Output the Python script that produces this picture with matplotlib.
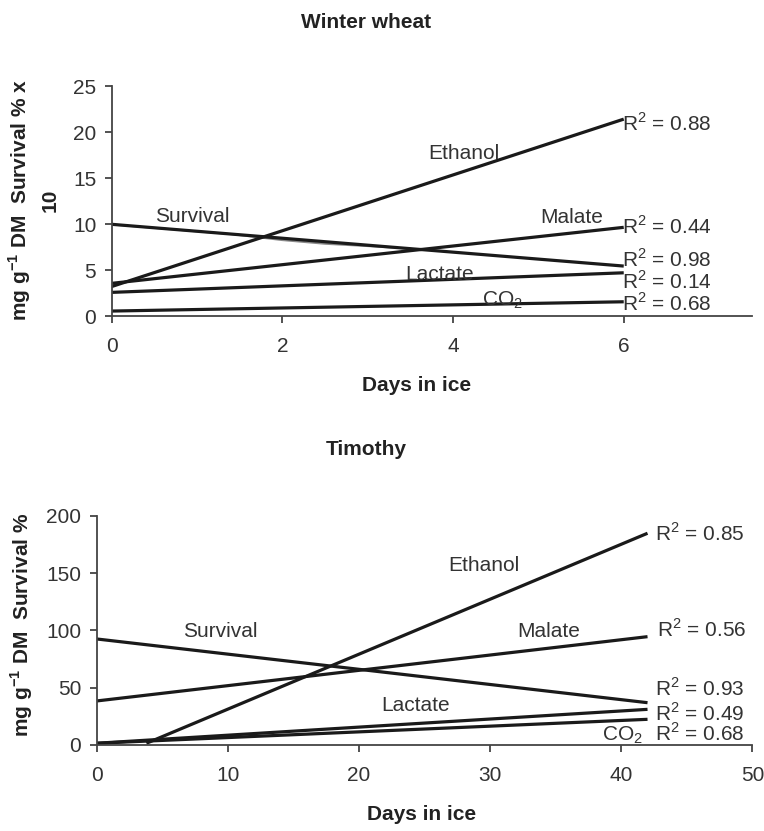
import matplotlib
matplotlib.use("Agg")
from matplotlib import pyplot as plt

plt.rcParams["font.family"] = ["Liberation Sans", "DejaVu Sans"]
plt.rcParams["mathtext.fontset"] = "custom"
plt.rcParams["mathtext.rm"] = "Liberation Sans"
plt.rcParams["mathtext.bf"] = "Liberation Sans:bold"

# winter wheat: fitted trend lines, value at day 0 and day 6
ww_x = [0, 6]
ww_ethanol = [3.2, 21.4]
ww_survival = [9.97, 5.43]
ww_malate = [3.55, 9.64]
ww_lactate = [2.57, 4.7]
ww_co2 = [0.54, 1.55]
# measured survival curve (grey, mostly hidden behind the fit)
ww_surv_raw_x = [0, 1.4, 2.0, 2.5, 3.0, 3.5]
ww_surv_raw_y = [9.95, 8.9, 8.25, 7.85, 7.6, 7.32]
ww_r2 = ["0.88", "0.44", "0.98", "0.14", "0.68"]
ww_r2_y = [20.15, 8.9, 5.4, 2.93, 0.59]

# timothy: value at day 0 and day 42
tim_x = [0, 42]
tim_ethanol_x = [3.8, 42]
tim_ethanol = [1.5, 184.7]
tim_survival = [92.5, 36.9]
tim_malate = [38.4, 94.5]
tim_lactate = [1.5, 31.1]
tim_co2 = [1.5, 22.4]
tim_r2 = ["0.85", "0.56", "0.93", "0.49", "0.68"]
tim_r2_x = [42.6, 42.75, 42.6, 42.6, 42.6]
tim_r2_y = [178.4, 94.0, 43.1, 21.3, 3.8]

fig = plt.figure(figsize=(7.64, 8.31), dpi=100)
ax1 = fig.add_axes([0.146, 0.6197, 0.838, 0.2768])
ax2 = fig.add_axes([0.1264, 0.1035, 0.8585, 0.2759])

lw = 2.3
fs = 15
ink = "#1a1a1a"
bold = dict(fontweight="bold", fontsize=15, color="#222222")

# top
ax1.plot(ww_surv_raw_x, ww_surv_raw_y, color="#8a8a8a", lw=1.4)
for y in [ww_ethanol, ww_survival, ww_malate, ww_lactate, ww_co2]:
    ax1.plot(ww_x, y, color=ink, lw=lw, solid_capstyle="butt")
ax1.text(0.51, 10.2, "Survival", fontsize=fs, color="#333333")
ax1.text(3.71, 17.07, "Ethanol", fontsize=fs, color="#333333")
ax1.text(5.02, 10.08, "Malate", fontsize=fs, color="#333333")
ax1.text(3.44, 3.91, "Lactate", fontsize=fs, color="#333333")
ax1.text(4.34, 1.2, "CO$_2$", fontsize=fs, color="#333333")
for t, y in zip(ww_r2, ww_r2_y):
    ax1.text(5.98, y, f"R$^2$ = {t}", fontsize=fs, color="#333333")
ax1.set_xlim(0, 7.5)
ax1.set_ylim(0, 25)
ax1.set_xticks([0, 2, 4, 6])
ax1.set_yticks([0, 5, 10, 15, 20, 25])

# bottom
ax2.plot(tim_ethanol_x, tim_ethanol, color=ink, lw=lw, solid_capstyle="butt")
for y in [tim_survival, tim_malate, tim_lactate, tim_co2]:
    ax2.plot(tim_x, y, color=ink, lw=lw, solid_capstyle="butt")
ax2.text(6.6, 94.0, "Survival", fontsize=fs, color="#333333")
ax2.text(26.8, 152.2, "Ethanol", fontsize=fs, color="#333333")
ax2.text(32.1, 94.0, "Malate", fontsize=fs, color="#333333")
ax2.text(21.7, 29.4, "Lactate", fontsize=fs, color="#333333")
ax2.text(38.5, 3.8, "CO$_2$", fontsize=fs, color="#333333")
for t, x, y in zip(tim_r2, tim_r2_x, tim_r2_y):
    ax2.text(x, y, f"R$^2$ = {t}", fontsize=fs, color="#333333")
ax2.set_xlim(0, 50)
ax2.set_ylim(0, 200)
ax2.set_xticks([0, 10, 20, 30, 40, 50])
ax2.set_yticks([0, 50, 100, 150, 200])

for ax in (ax1, ax2):
    for s in ("top", "right"):
        ax.spines[s].set_visible(False)
    for s in ("left", "bottom"):
        ax.spines[s].set_color("#444444")
        ax.spines[s].set_linewidth(1.3)
    ax.tick_params(direction="out", length=5, width=1.3, labelsize=fs,
                   colors="#444444", labelcolor="#333333")
    ax.tick_params(axis="x", pad=10)
    ax.tick_params(axis="y", pad=6)

# titles and axis labels placed as in the reference
fig.text(0.479, 0.9735, "Winter wheat", ha="center", va="center", **bold)
fig.text(0.480, 0.4585, "Timothy", ha="center", va="center", **bold)
fig.text(0.545, 0.5355, "Days in ice", ha="center", va="center", **bold)
fig.text(0.552, 0.0195, "Days in ice", ha="center", va="center", **bold)
fig.text(0.0432, 0.759, "mg g$^{\\mathbf{-1}}$ DM  Survival % x\n10", rotation=90,
         ha="center", va="center", multialignment="center", linespacing=1.45, **bold)
fig.text(0.0284, 0.248, "mg g$^{\\mathbf{-1}}$ DM  Survival %", rotation=90,
         ha="center", va="center", **bold)

fig.savefig("out.png", dpi=100)
